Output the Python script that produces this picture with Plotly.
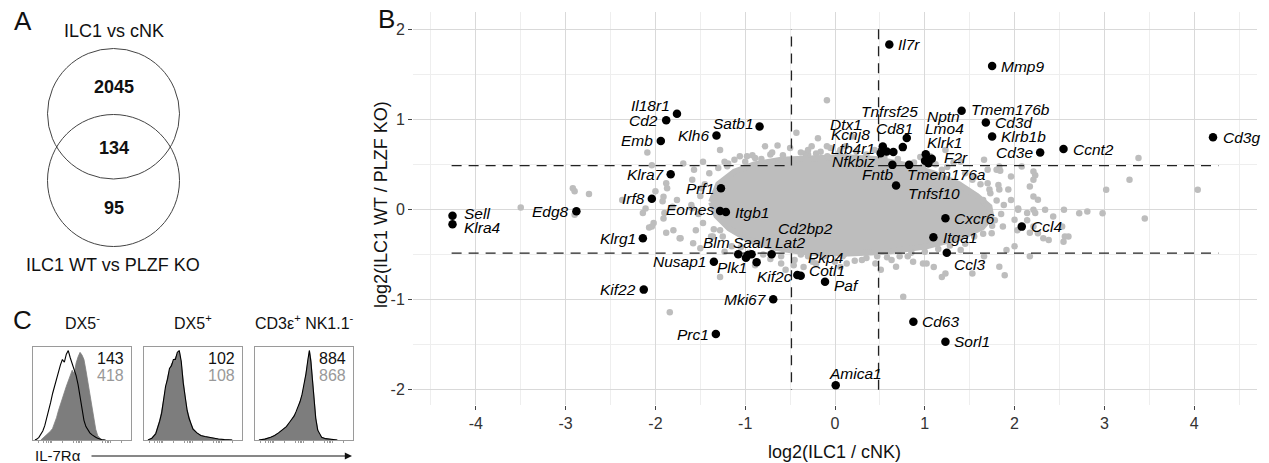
import plotly.graph_objects as go

W, H = 1269, 463
FONT = "Liberation Sans, Arial, Helvetica, sans-serif"


def px(x):
    return x / W


def py(y):
    return 1 - y / H


# ---------------- Panel A: Venn counts ----------------
venn_title_top = "ILC1 vs cNK"
venn_title_bottom = "ILC1 WT vs PLZF KO"
venn_counts = [2045, 134, 95]

# ---------------- Panel B: volcano-style comparison ----------------
cutoff = 0.485          # fold-change threshold on both axes (log2)
line_x_end = 4.27
line_y_end = 2.0

# dense central cloud of unselected genes (outline)
core_x = [-1.38, -1.30, -1.12, -0.90, -0.60, -0.25, 0.10, 0.45, 0.80, 1.10, 1.38, 1.58,
          1.72, 1.74, 1.64, 1.40, 1.02, 0.58, 0.15, -0.30, -0.66, -0.96, -1.18, -1.32]
core_y = [0.08, 0.28, 0.42, 0.50, 0.55, 0.57, 0.58, 0.56, 0.49, 0.40, 0.28, 0.15,
          0.03, -0.08, -0.20, -0.31, -0.41, -0.47, -0.49, -0.48, -0.43, -0.34, -0.21, -0.07]

# remaining unselected genes outside the dense cloud
bg_x = [-3.50, -2.92, -2.90, -2.74, -2.90, -2.37, -2.11, -2.14, -2.09, -2.04, -1.92, -1.88,
        -1.90, -1.91, -2.07, -1.88, -1.84,
        -1.91, -1.87, -1.57, -1.59, -1.49, -1.59, -1.81, -1.72, -1.55, -2.04, -1.28, -1.28,
        -1.36, -1.15, -1.23, -0.89, -0.60, -0.55, -0.30, -0.21, 0.085, 0.30, 0.47, -0.21,
        -0.30, -0.085, -0.09, -1.28, -1.06, -0.89, -0.72, -1.23, -0.64,
        -0.43, -0.78, -0.64, -0.19, -0.26, -0.33, -0.09, 0.06, 0.19, -0.98, -1.19, -1.69,
        -1.47, -2.00, -1.76,
        0.76, 1.19, 0.87, 1.02, 1.10, 0.63, -0.46, -0.35, 0.06, 0.13, -1.73, -1.80, -2.02,
        -1.58, -1.50,
        1.06, 1.23, 1.40, 0.98, 1.19, 1.53, 1.70, 1.83, 1.96, 2.04, 1.66, 1.83, 1.70, 1.96,
        2.17, 2.26, 2.21, 2.00, 1.87, 1.745, 2.34, 2.43, 2.55, 2.26, 2.38, 2.60, 2.00, 2.17,
        1.66, 1.40, 1.83, 1.89, 1.53, 0.98, 1.23, 0.81, 0.51, 0.68, 2.98, 2.81, 2.72, 3.02,
        2.21, 2.21, 3.28, 3.38,
        4.04, 3.45, 2.56, 2.53, 2.21, 2.23, 2.21, 2.08, 1.80, 1.84, 1.93, 1.82, 1.73, 1.65,
        1.67, 2.04, 2.14, 2.23, 2.14, 2.03, 2.17, 2.32, 1.91, 2.545,
        # fringe along the upper edge of the cloud
        -1.40, -1.30, -1.20, -1.12, -1.00, -0.92, -0.82, -0.70, -0.58, -0.50, -0.38, -0.30,
        -0.16, -0.05, 0.05, 0.12, 0.24, 0.35, 0.44, 0.55, 0.70, 0.88, 0.95, 1.12, 1.25, 1.32,
        1.45, 1.55, 1.62, 1.72,
        # fringe along the lower edge of the cloud
        -1.35, -1.25, -1.05, -0.95, -0.80, -0.72, -0.60, -0.45, -0.38, -0.25, -0.12, 0.00,
        0.10, 0.22, 0.35, 0.45, 0.58, 0.72, 0.85, 1.00, 1.15, 1.28, 1.45, 1.55, 1.65, 1.75,
        # fringe at both tips
        -1.50, -1.52, -1.45, -1.47, -1.60, -1.38, 1.80, 1.85, 1.78, 1.88]
bg_y = [0.02, 0.235, 0.20, 0.17, -0.06, 0.105, 0.01, -0.04, 0.63, 0.49, 0.09, 0.29,
        -0.04, -0.10, -0.20, -0.26, -1.14,
        0.14, 0.235, 0.44, 0.33, 0.235, 0.013, 0.03, -0.32, -0.23, -0.19, -0.75, -0.23,
        -0.30, -0.41, -0.47, -0.62, -0.60, -0.67, -0.52, -0.60, -0.52, -0.56, -0.52, 0.62,
        0.61, 0.59, 1.21, 0.66, 0.59, 0.57, 0.61, 0.53, 0.51,
        0.85, 0.70, 0.71, 0.79, 0.70, 0.62, 0.70, 0.66, 0.81, 0.59, 0.51, 0.51,
        0.53, 0.20, 0.105,
        -0.97, -0.75, -0.58, -0.60, -0.64, -0.56, -0.62, -0.64, -0.64, -0.60, -0.32, -0.23,
        -0.15, -0.375, -0.43,
        0.59, 0.66, 0.53, 0.475, 0.44, 0.33, 0.29, 0.22, 0.105, -0.005, 0.55, 0.476, 0.44,
        0.365, 0.254, 0.106, -0.005, -0.116, -0.19, -0.265, -0.005, -0.08, -0.005, -0.265,
        -0.34, -0.30, -0.41, -0.52, -0.52, -0.45, -0.635, -0.73, -0.71, -0.60, -0.71, -0.52,
        -0.67, -0.635, -0.042, -0.024, -0.042, 0.217, 0.143, -0.19, 0.33, 0.57,
        0.217, -0.10, -0.30, -0.19, 0.42, 0.38, 0.33, 0.475, 0.44, 0.43, 0.22, 0.27, 0.18,
        0.105, -0.04, 0.01, -0.04, -0.04, -0.12, -0.23, -0.26, -0.32, -0.45, -0.36,
        0.40, 0.46, 0.48, 0.55, 0.53, 0.60, 0.56, 0.63, 0.60, 0.68, 0.63, 0.66,
        0.64, 0.68, 0.63, 0.70, 0.64, 0.61, 0.66, 0.58, 0.56, 0.52, 0.58, 0.50, 0.47, 0.52,
        0.40, 0.36, 0.28, 0.22,
        -0.22, -0.30, -0.42, -0.48, -0.50, -0.55, -0.52, -0.56, -0.50, -0.58, -0.52, -0.58,
        -0.50, -0.57, -0.54, -0.60, -0.53, -0.52, -0.48, -0.47, -0.44, -0.40, -0.38, -0.30,
        -0.27, -0.18,
        0.15, -0.05, 0.28, -0.15, 0.05, -0.30, 0.10, -0.05, -0.12, 0.05]

# labelled genes
genes = ["Il7r", "Mmp9", "Il18r1", "Cd2", "Emb", "Klh6", "Satb1", "Klra7", "Irf8", "Prf1",
         "Eomes", "Itgb1", "Edg8", "Sell", "Klra4", "Klrg1", "Kif22", "Nusap1", "Blm",
         "Saal1", "Lat2", "Cd2bp2", "Plk1", "Kif2c", "Pkp4", "Cotl1", "Paf", "Mki67", "Prc1",
         "Amica1", "Cd63", "Sorl1", "Cxcr6", "Itga1", "Ccl3", "Ccl4", "Tmem176b", "Cd3d",
         "Klrb1b", "Cd3e", "Ccnt2", "Cd3g", "Tnfsf10", "Fntb", "Tmem176a", "Tnfrsf25",
         "Cd81", "Dtx1", "Kcnj8", "Ltb4r1", "Nfkbiz", "Nptn", "Lmo4", "Klrk1", "F2r"]
gene_x = [0.605, 1.75, -1.76, -1.88, -1.94, -1.32, -0.84, -1.83, -2.04, -1.27,
          -1.28, -1.215, -2.88, -4.26, -4.26, -2.14, -2.13, -1.349, -1.078,
          -0.929, -0.706, -0.970, -0.992, -0.873, -0.420, -0.382, -0.111, -0.688, -1.327,
          0.008, 0.873, 1.230, 1.230, 1.096, 1.245, 2.080, 1.41, 1.68,
          1.75, 2.285, 2.545, 4.21, 0.680, 0.639, 0.825, 0.799,
          0.755, 0.532, 0.576, 0.650, 0.509, 1.011, 1.003, 1.078, 1.040]
gene_y = [1.83, 1.59, 1.06, 0.99, 0.76, 0.82, 0.92, 0.39, 0.117, 0.235,
          -0.017, -0.03, -0.02, -0.07, -0.165, -0.32, -0.89, -0.580, -0.498,
          -0.498, -0.498, -0.506, -0.536, -0.587, -0.728, -0.736, -0.802, -0.998, -1.383,
          -1.950, -1.247, -1.469, -0.098, -0.309, -0.481, -0.191, 1.094, 0.965,
          0.81, 0.63, 0.67, 0.80, 0.264, 0.494, 0.494, 0.791,
          0.691, 0.698, 0.642, 0.636, 0.624, 0.613, 0.539, 0.561, 0.513]

# text placement of each gene name relative to its point: (side, x shift px, y shift px)
label_place = {
    "Il7r": ("l", 7, 0), "Mmp9": ("l", 7, 0), "Il18r1": ("r", -5, 8), "Cd2": ("r", -6, 0),
    "Emb": ("r", -6, 0), "Klh6": ("r", -5, 0), "Satb1": ("r", -4, 3), "Klra7": ("r", -4, 0),
    "Irf8": ("r", -5, 0), "Prf1": ("r", -5, 0), "Eomes": ("r", -4, 1), "Itgb1": ("l", 7, 0),
    "Edg8": ("r", -5, 0), "Sell": ("l", 9, 2), "Klra4": ("l", 9, -3), "Klrg1": ("r", -5, 0),
    "Kif22": ("r", -6, 0), "Nusap1": ("r", -6, 0), "Blm": ("r", -6, 12), "Saal1": ("c", 1, 12),
    "Lat2": ("l", 1, 12), "Cd2bp2": ("l", 28, 27), "Plk1": ("r", 3, -10), "Kif2c": ("l", -2, -14),
    "Pkp4": ("l", 9, 18), "Cotl1": ("l", 6, 5), "Paf": ("l", 7, -4), "Mki67": ("r", -4, 0),
    "Prc1": ("r", -5, 0), "Amica1": ("l", -9, 12), "Cd63": ("l", 7, 0), "Sorl1": ("l", 7, 0),
    "Cxcr6": ("l", 7, 0), "Itga1": ("l", 8, 0), "Ccl3": ("l", 5, -12), "Ccl4": ("l", 7, 0),
    "Tmem176b": ("l", 7, 1), "Cd3d": ("l", 7, 0), "Klrb1b": ("l", 7, 0), "Cd3e": ("r", -5, 0),
    "Ccnt2": ("l", 7, 0), "Cd3g": ("l", 8, 0), "Tnfsf10": ("l", 10, -8), "Fntb": ("r", 3, -10),
    "Tmem176a": ("l", -4, -10), "Tnfrsf25": ("r", 13, 27), "Cd81": ("r", 12, 19),
    "Dtx1": ("r", -19, 22), "Kcnj8": ("r", -15, 17), "Ltb4r1": ("r", -16, 4),
    "Nfkbiz": ("r", -4, -8), "Nptn": ("l", -1, 38), "Lmo4": ("l", -2, 32),
    "Klrk1": ("l", -7, 16), "F2r": ("l", 14, 6),
}

x_ticks = [-4, -3, -2, -1, 0, 1, 2, 3, 4]
x_tick_text = ["-4", "-3", "-2", "-1", "0", "1", "2", "3", "4"]
y_ticks = [-2, -1, 0, 1, 2]
y_tick_text = ["-2", "-1", "0", "1", "2"]

# ---------------- Panel C: IL-7Ra histograms ----------------
hist_titles = ["DX5<sup>-</sup>", "DX5<sup>+</sup>", "CD3\u03b5<sup>+</sup> NK1.1<sup>-</sup>"]
mfi_wt = ["143", "102", "884"]
mfi_ko = ["418", "108", "868"]

h1_fill_x = [8, 10, 12, 14, 16, 18, 20, 22, 24, 26, 28, 30, 32, 34, 36, 38, 40, 42, 44, 46,
             48, 50, 52, 54, 56, 58, 60, 62, 64, 66, 68, 70]
h1_fill_y = [0, 0.02, 0.03, 0.05, 0.07, 0.10, 0.13, 0.18, 0.25, 0.33, 0.40, 0.47, 0.55,
             0.60, 0.66, 0.72, 0.78, 0.74, 0.86, 0.93, 0.98, 0.95, 0.90, 0.78, 0.65, 0.50,
             0.36, 0.22, 0.12, 0.05, 0.02, 0]
h1_line_x = [2, 4, 6, 8, 10, 12, 14, 16, 18, 20, 22, 24, 26, 28, 30, 32, 34, 36, 38, 40, 42,
             44, 46, 48, 50, 52, 54, 56, 58, 60, 62, 64, 66, 68, 70, 74]
h1_line_y = [0, 0.01, 0.03, 0.06, 0.10, 0.16, 0.24, 0.33, 0.42, 0.52, 0.60, 0.70, 0.78,
             0.84, 0.90, 0.87, 0.96, 1.0, 0.92, 0.86, 0.80, 0.72, 0.62, 0.50, 0.36, 0.22,
             0.15, 0.11, 0.08, 0.06, 0.04, 0.03, 0.02, 0.01, 0.005, 0]

h2_x = [4, 8, 12, 14, 16, 18, 20, 22, 24, 26, 28, 30, 32, 34, 36, 38, 40, 42, 44, 46, 48,
        50, 54, 58, 62, 66, 70, 76, 82, 90]
h2_fill_y = [0, 0.02, 0.08, 0.14, 0.22, 0.32, 0.45, 0.58, 0.70, 0.78, 0.85, 0.88, 0.92,
             0.97, 1.0, 0.86, 0.66, 0.48, 0.34, 0.25, 0.18, 0.13, 0.08, 0.05, 0.04, 0.03,
             0.02, 0.01, 0.005, 0]
h2_line_y = [0, 0.02, 0.07, 0.13, 0.21, 0.30, 0.44, 0.60, 0.68, 0.80, 0.83, 0.90, 0.90,
             0.98, 1.0, 0.88, 0.64, 0.46, 0.33, 0.24, 0.17, 0.12, 0.08, 0.05, 0.04, 0.03,
             0.02, 0.012, 0.005, 0]

h3_x = [4, 10, 16, 20, 24, 28, 32, 36, 40, 42, 44, 46, 48, 50, 52, 54, 55.5, 57, 58.5, 60,
        62, 64, 66, 68, 72, 78, 84]
h3_fill_y = [0, 0.01, 0.03, 0.05, 0.08, 0.11, 0.15, 0.20, 0.27, 0.31, 0.36, 0.42, 0.50,
             0.60, 0.72, 0.88, 1.0, 0.90, 0.70, 0.48, 0.25, 0.12, 0.06, 0.03, 0.015, 0.005, 0]
h3_line_y = [0, 0.01, 0.03, 0.05, 0.08, 0.11, 0.15, 0.21, 0.27, 0.32, 0.37, 0.43, 0.51,
             0.61, 0.74, 0.90, 1.0, 0.88, 0.68, 0.46, 0.24, 0.11, 0.06, 0.03, 0.015, 0.005, 0]

hist_ticks = [6, 11, 14, 16, 17.5, 19, 30, 41, 44, 46, 47.5, 49, 60, 71, 74, 76, 77.5, 79, 90]

# ================= figure =================
GRAY = "#bdbdbd"
fig = go.Figure()

# Panel B traces
fig.add_trace(go.Scatter(
    x=core_x + core_x[:1], y=core_y + core_y[:1], mode="lines", fill="toself",
    fillcolor=GRAY, line=dict(color=GRAY, width=6), hoverinfo="skip", showlegend=False,
    xaxis="x", yaxis="y"))
fig.add_trace(go.Scatter(
    x=bg_x, y=bg_y, mode="markers", marker=dict(color=GRAY, size=6.5),
    hoverinfo="skip", showlegend=False, xaxis="x", yaxis="y"))

c = cutoff
dash_x = [-line_x_end, -c, -c, None, c, c, line_x_end, None,
          -line_x_end, -c, -c, None, c, c, line_x_end]
dash_y = [c, c, line_y_end, None, line_y_end, c, c, None,
          -c, -c, -line_y_end, None, -line_y_end, -c, -c]
fig.add_trace(go.Scatter(
    x=dash_x, y=dash_y, mode="lines", line=dict(color="#222222", width=1.3, dash="10px,7px"),
    hoverinfo="skip", showlegend=False, xaxis="x", yaxis="y"))

fig.add_trace(go.Scatter(
    x=gene_x, y=gene_y, mode="markers", marker=dict(color="black", size=8.5),
    text=genes, hoverinfo="text", showlegend=False, xaxis="x", yaxis="y"))

annotations = []
anchor_map = {"l": "left", "r": "right", "c": "center"}
for g, gx, gy in zip(genes, gene_x, gene_y):
    side, dx, dy = label_place[g]
    annotations.append(dict(
        x=gx, y=gy, xref="x", yref="y", text=f"<i>{g}</i>", showarrow=False,
        xanchor=anchor_map[side], yanchor="middle", xshift=dx, yshift=dy,
        font=dict(family=FONT, size=15.5, color="black")))

# Panel C traces
hist_sets = [
    (h1_fill_x, h1_fill_y, h1_line_x, h1_line_y),
    (h2_x, h2_fill_y, h2_x, h2_line_y),
    (h3_x, h3_fill_y, h3_x, h3_line_y),
]
for i, (fx, fy, lx, ly) in enumerate(hist_sets):
    ax_id = i + 2
    fig.add_trace(go.Scatter(
        x=fx, y=fy, mode="lines", fill="tozeroy", fillcolor="#7d7d7d",
        line=dict(color="#7d7d7d", width=0.8), hoverinfo="skip", showlegend=False,
        xaxis=f"x{ax_id}", yaxis=f"y{ax_id}"))
    fig.add_trace(go.Scatter(
        x=lx, y=ly, mode="lines", line=dict(color="black", width=1.1),
        hoverinfo="skip", showlegend=False, xaxis=f"x{ax_id}", yaxis=f"y{ax_id}"))

# ---------- layout ----------
layout = dict(
    width=W, height=H, margin=dict(l=0, r=0, t=0, b=0),
    paper_bgcolor="white", plot_bgcolor="white", showlegend=False,
    font=dict(family=FONT, color="#222222"),
    xaxis=dict(domain=[px(413), px(1257)], range=[-4.7, 4.7], tickvals=x_ticks,
               ticktext=x_tick_text, ticks="outside", ticklen=4, tickwidth=1,
               tickcolor="#444444", tickfont=dict(size=16, color="#333333", family=FONT),
               showgrid=True, gridcolor="#d9d9d9", gridwidth=1.1, zeroline=False,
               showline=False, anchor="y",
               minor=dict(tickvals=[-4.5, -3.5, -2.5, -1.5, -0.5, 0.5, 1.5, 2.5, 3.5, 4.5],
                          showgrid=True, gridcolor="#eeeeee", gridwidth=0.8, ticks="")),
    yaxis=dict(domain=[py(405), py(12)], range=[-2.17, 2.19], tickvals=y_ticks,
               ticktext=y_tick_text, ticks="outside", ticklen=4, tickwidth=1,
               tickcolor="#444444", tickfont=dict(size=16, color="#333333", family=FONT),
               showgrid=True, gridcolor="#d9d9d9", gridwidth=1.1, zeroline=False,
               showline=False, anchor="x",
               minor=dict(tickvals=[-1.5, -0.5, 0.5, 1.5],
                          showgrid=True, gridcolor="#eeeeee", gridwidth=0.8, ticks="")),
)

box_px = [(33, 131), (144, 242), (255, 353)]
for i, (x0, x1) in enumerate(box_px):
    ax_id = i + 2
    layout[f"xaxis{ax_id}"] = dict(
        domain=[px(x0), px(x1)], range=[0, 100], showgrid=False, zeroline=False,
        showline=True, mirror=True, linecolor="#9a9a9a", linewidth=1,
        ticks="outside", ticklen=2, tickcolor="#9a9a9a", tickvals=hist_ticks,
        showticklabels=False, anchor=f"y{ax_id}", fixedrange=True)
    layout[f"yaxis{ax_id}"] = dict(
        domain=[py(440), py(347)], range=[0, 1.04], showgrid=False, zeroline=False,
        showline=True, mirror=True, linecolor="#9a9a9a", linewidth=1,
        showticklabels=False, ticks="", anchor=f"x{ax_id}", fixedrange=True)

    cx = (x0 + x1) / 2
    annotations.append(dict(x=px(cx), y=py(322), xref="paper", yref="paper",
                            text=hist_titles[i], showarrow=False, xanchor="center",
                            yanchor="middle", font=dict(family=FONT, size=16, color="#111111")))
    annotations.append(dict(x=px(x1 - 5), y=py(358), xref="paper", yref="paper",
                            text=mfi_wt[i], showarrow=False, xanchor="right",
                            yanchor="middle", font=dict(family=FONT, size=16, color="#111111")))
    annotations.append(dict(x=px(x1 - 5), y=py(375), xref="paper", yref="paper",
                            text=mfi_ko[i], showarrow=False, xanchor="right",
                            yanchor="middle", font=dict(family=FONT, size=16, color="#999999")))

# axis titles of panel B
annotations.append(dict(x=px(835), y=py(452), xref="paper", yref="paper",
                        text="log2(ILC1 / cNK)", showarrow=False, xanchor="center",
                        yanchor="middle", font=dict(family=FONT, size=18, color="#111111")))
annotations.append(dict(x=px(381), y=py(205), xref="paper", yref="paper",
                        text="log2(ILC1 WT / PLZF KO)", showarrow=False, textangle=-90,
                        xanchor="center", yanchor="middle",
                        font=dict(family=FONT, size=18, color="#111111")))

# panel letters
for letter, lx, ly in [("A", 23, 21), ("B", 386, 19), ("C", 22, 320)]:
    annotations.append(dict(x=px(lx), y=py(ly), xref="paper", yref="paper", text=letter,
                            showarrow=False, xanchor="center", yanchor="middle",
                            font=dict(family=FONT, size=26, color="#111111")))

# Venn texts
annotations.append(dict(x=px(114), y=py(31), xref="paper", yref="paper", text=venn_title_top,
                        showarrow=False, xanchor="center", yanchor="middle",
                        font=dict(family=FONT, size=18, color="#111111")))
annotations.append(dict(x=px(113), y=py(265), xref="paper", yref="paper",
                        text=venn_title_bottom, showarrow=False, xanchor="center",
                        yanchor="middle", font=dict(family=FONT, size=18, color="#111111")))
for val, vy in zip(venn_counts, [87, 148, 208]):
    annotations.append(dict(x=px(114), y=py(vy), xref="paper", yref="paper",
                            text=f"<b>{val}</b>", showarrow=False, xanchor="center",
                            yanchor="middle", font=dict(family=FONT, size=18, color="#111111")))

# IL-7Ra axis label and arrow
annotations.append(dict(x=px(33), y=py(455), xref="paper", yref="paper", text="IL-7R\u03b1",
                        showarrow=False, xanchor="left", yanchor="middle",
                        font=dict(family=FONT, size=15, color="#111111")))
annotations.append(dict(x=px(352), y=py(456), xref="paper", yref="paper", text="",
                        showarrow=True, ax=-262, ay=0, arrowhead=2, arrowsize=1.2,
                        arrowwidth=1.2, arrowcolor="#111111"))

layout["annotations"] = annotations
layout["shapes"] = [
    dict(type="circle", xref="paper", yref="paper", x0=px(47.5), x1=px(179.5),
         y0=py(179), y1=py(48.5), line=dict(color="#444444", width=1)),
    dict(type="circle", xref="paper", yref="paper", x0=px(47.5), x1=px(179.5),
         y0=py(246.5), y1=py(114.5), line=dict(color="#444444", width=1)),
]

fig.update_layout(**layout)
fig.write_html("out.html")
